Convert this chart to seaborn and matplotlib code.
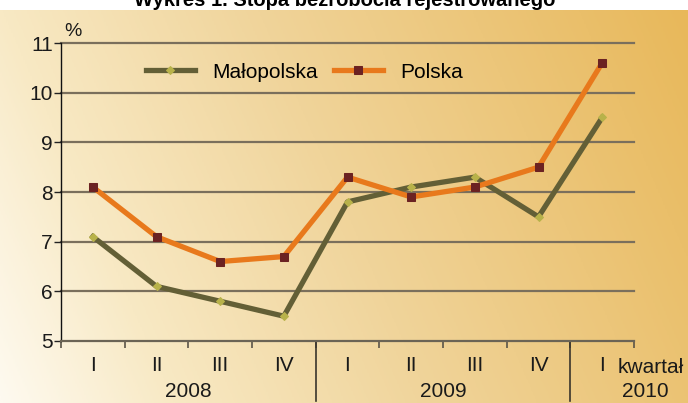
import numpy as np
import pandas as pd
import matplotlib
matplotlib.use("Agg")
import matplotlib.pyplot as plt
import matplotlib.transforms as mtransforms
from matplotlib.colors import LinearSegmentedColormap
import seaborn as sns

# ---- data ----
quarters = ["I", "II", "III", "IV", "I", "II", "III", "IV", "I"]
years = ["2008", "2009", "2010"]
malopolska = [7.1, 6.1, 5.8, 5.5, 7.8, 8.1, 8.3, 7.5, 9.5]
polska = [8.1, 7.1, 6.6, 6.7, 8.3, 7.9, 8.1, 8.5, 10.6]
series_names = ["Małopolska", "Polska"]
y_ticks = [5, 6, 7, 8, 9, 10, 11]
title = "Wykres 1. Stopa bezrobocia rejestrowanego"

plt.rcParams["font.family"] = ["Liberation Sans", "DejaVu Sans"]

W, H = 688, 403
FS = 15
fig = plt.figure(figsize=(W / 100, H / 100), dpi=100)
fig.patch.set_facecolor("white")

# title (cut off by the background panel, as in the source)
fig.text(345 / W, 1 - 6 / H, title, ha="center", va="baseline",
         fontsize=14.5, fontweight="bold", color="black", zorder=-1)

# gradient background
bg = fig.add_axes([0, 0, 1, (H - 10) / H], zorder=0)
gx, gy = np.meshgrid(np.linspace(0, 1, 400), np.linspace(0, 1, 200))
t = 0.8 * gx + 0.2 * (1 - gy)
cmap = LinearSegmentedColormap.from_list(
    "bg", [(0, "#fefaf0"), (0.2, "#f8e9c4"), (0.5, "#f0d49a"), (1, "#e8b85a")])
bg.imshow(t, cmap=cmap, aspect="auto", extent=[0, 1, 0, 1], origin="upper",
          vmin=0, vmax=1, interpolation="bilinear")
bg.axis("off")

# main axes
ax = fig.add_axes([61 / W, 62 / H, 573 / W, 298 / H], zorder=1)
ax.patch.set_alpha(0)

df = pd.DataFrame({"pos": np.arange(len(quarters)),
                   series_names[0]: malopolska,
                   series_names[1]: polska})

sns.lineplot(data=df, x="pos", y=series_names[0], ax=ax, color="#635f36",
             lw=3.8, marker="D", markersize=4.5, markerfacecolor="#b8b24a",
             markeredgecolor="#b8b24a", label=series_names[0], zorder=3)
sns.lineplot(data=df, x="pos", y=series_names[1], ax=ax, color="#e8791c",
             lw=3.8, marker="s", markersize=5.5, markerfacecolor="#6b2222",
             markeredgecolor="#6b2222", label=series_names[1], zorder=4)

ax.set_xlim(-0.5, len(quarters) - 0.5)
ax.set_ylim(5, 11)
ax.set_xlabel("")
ax.set_ylabel("")
ax.set_yticks(y_ticks)
ax.set_yticklabels([str(v) for v in y_ticks])
for v in y_ticks[1:]:
    ax.axhline(v, color="#7a6f5c", lw=1.6, zorder=1, clip_on=False)

ax.set_xticks(np.arange(-0.5, len(quarters), 1.0))
ax.set_xticklabels([])
ax.set_xticks(np.arange(len(quarters)), minor=True)
ax.set_xticklabels(quarters, minor=True)
ax.tick_params(axis="x", which="major", length=5, width=1.2, color="#5a5448",
               direction="out")
ax.tick_params(axis="x", which="minor", length=0, pad=11, labelsize=FS,
               labelcolor="#1a1a1a")
ax.tick_params(axis="y", length=5, width=1, pad=1, labelsize=FS,
               color="#222222", labelcolor="#1a1a1a")

for s in ["top", "right"]:
    ax.spines[s].set_visible(False)
ax.spines["left"].set_color("#111111")
ax.spines["left"].set_linewidth(1.0)
ax.spines["bottom"].set_color("#6b6455")
ax.spines["bottom"].set_linewidth(1.6)

blend = mtransforms.blended_transform_factory(ax.transData, ax.transAxes)
# year separators
for xs in [3.5, 7.5]:
    ax.plot([xs, xs], [0, -0.2], transform=blend, clip_on=False,
            color="#3a352c", lw=1.2)
# year labels
year_pos = [1.5, 5.5, 8.67]
for yp, yr in zip(year_pos, years):
    ax.text(yp, -0.168, yr, transform=blend, ha="center", va="center",
            fontsize=FS, color="#1a1a1a")
ax.text(8.76, -0.09, "kwartał", transform=blend, ha="center", va="center",
        fontsize=FS, color="#1a1a1a")
ax.text(0.005, 1.01, "%", transform=ax.transAxes, ha="left", va="bottom",
        fontsize=14, color="#1a1a1a")

ax.legend(ncol=2, frameon=False, loc="center left",
          bbox_to_anchor=(146 / W, 1 - 72 / H), bbox_transform=fig.transFigure,
          handlelength=2.35, handletextpad=0.85, columnspacing=0.75,
          borderpad=0, borderaxespad=0, fontsize=FS)

fig.savefig("out.png", dpi=100)
